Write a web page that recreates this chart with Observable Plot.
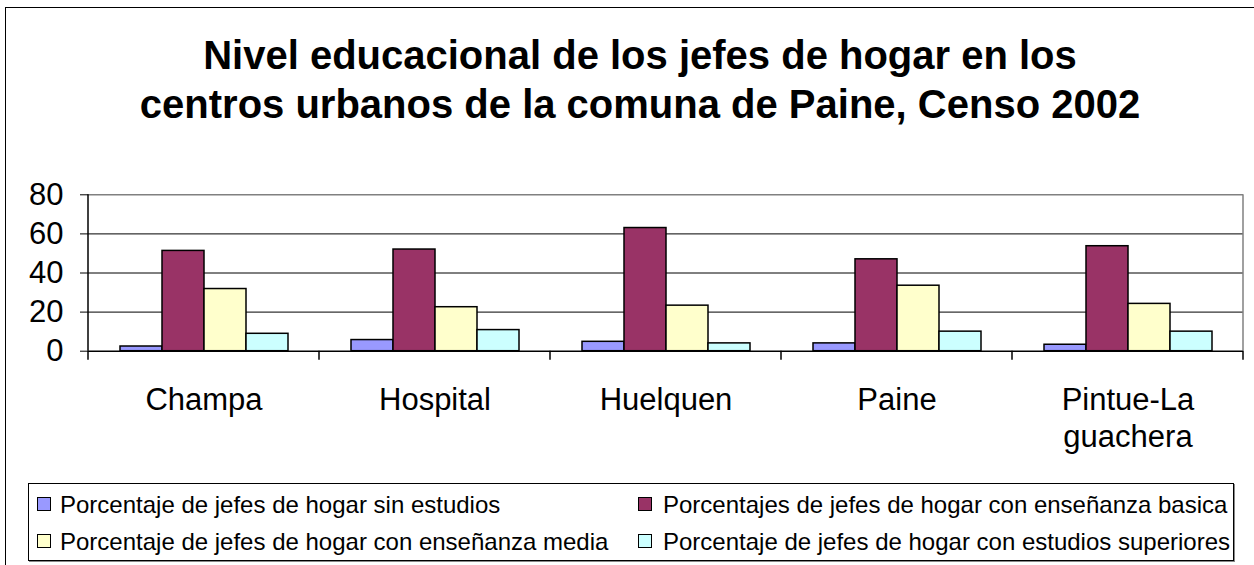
<!DOCTYPE html>
<html><head><meta charset="utf-8">
<script src="https://cdn.jsdelivr.net/npm/d3@7"></script>
<script src="https://cdn.jsdelivr.net/npm/@observablehq/plot@0.6"></script>
<style>
body{margin:0;background:#fff;overflow:hidden;font-family:"Liberation Sans",Arial,sans-serif;color:#000;}
#wrap{position:relative;width:1254px;height:565px;overflow:hidden;background:#fff;}
#outer{position:absolute;left:5px;top:7px;width:1300px;height:620px;border-left:1px solid #000;border-top:1px solid #000;}
#title{position:absolute;left:0;top:31px;width:1280px;text-align:center;font-weight:bold;font-size:40px;line-height:49px;white-space:nowrap;}
#chart{position:absolute;left:0;top:170px;}
#legend{position:absolute;left:28px;top:483px;width:1204px;height:76px;border:1px solid #000;box-shadow:1px 1px 0 #888;}
.li{position:absolute;font-size:24px;line-height:20px;white-space:nowrap;}
.sw{position:absolute;width:12px;height:12px;border:1px solid #000;}
</style>
</head><body>
<div id="wrap">
  <div id="outer"></div>
  <div id="title">Nivel educacional de los jefes de hogar en los<br>centros urbanos de la comuna de Paine, Censo 2002</div>
  <div id="chart"></div>
  <div id="legend"></div>
</div>
<script>
const cities = ["Champa", "Hospital", "Huelquen", "Paine", "Pintue-La guachera"];
const series = [
  "Porcentaje de jefes de hogar sin estudios",
  "Porcentajes de jefes de hogar con enseñanza basica",
  "Porcentaje de jefes de hogar con enseñanza media",
  "Porcentaje de jefes de hogar con estudios superiores"
];
const sinEstudios = [2.4, 5.7, 4.8, 4.0, 3.3];
const basica      = [51.3, 52.0, 63.0, 47.0, 53.7];
const media       = [31.8, 22.5, 23.3, 33.5, 24.2];
const superiores  = [8.9, 10.8, 4.0, 10.0, 10.0];
const yTicks = [0, 20, 40, 60, 80];
const colors = ["#9999FF", "#993366", "#FFFFCC", "#CCFFFF"];

const values = [sinEstudios, basica, media, superiores];
const data = cities.flatMap((c, i) => series.map((s, j) => ({city: c, serie: s, value: values[j][i]})));

const font = '"Liberation Sans", Arial, sans-serif';
const plot = Plot.plot({
  width: 1254, height: 300,
  marginLeft: 87, marginRight: 10, marginTop: 24.3, marginBottom: 119.3,
  style: {fontFamily: font, color: "#000", background: "transparent", overflow: "visible"},
  fx: {domain: cities, padding: 0},
  x: {domain: series, axis: null, paddingInner: 0, paddingOuter: 0.72},
  y: {domain: [0, 80], axis: null},
  color: {domain: series, range: colors},
  marks: [
    Plot.ruleY([20, 40, 60], {stroke: "#000", strokeWidth: 1}),
    Plot.ruleY([80], {stroke: "#808080", strokeWidth: 1.5}),
    Plot.barY(data, {fx: "city", x: "serie", y: "value", fill: "serie", stroke: "#000", strokeWidth: 1.5}),
    Plot.ruleY([0], {stroke: "#000", strokeWidth: 1.5}),
    Plot.axisY({ticks: yTicks, tickSize: 8, tickPadding: 17, fontSize: 31, label: null, stroke: "#000"}),
    Plot.axisFx({anchor: "bottom", tickSize: 0, tickPadding: 32, fontSize: 31, lineHeight: 1.2, label: null,
                 tickFormat: d => d.replace(" ", "\n")})
  ]
});

// axis lines and category separators derived from the scales
try {
  const fx = plot.scale("fx");
  const y = plot.scale("y");
  const y0 = y.apply(0), y80 = y.apply(80);
  const svg = d3.select(plot);
  const g = svg.append("g");
  const edges = cities.map(c => fx.apply(c));
  const right = fx.apply(cities[cities.length - 1]) + fx.bandwidth;
  edges.push(right);
  g.append("line").attr("x1", right).attr("x2", right).attr("y1", y80).attr("y2", y0)
    .attr("stroke", "#808080").attr("stroke-width", 1.5);
  g.append("line").attr("x1", edges[0]).attr("x2", edges[0]).attr("y1", y80).attr("y2", y0)
    .attr("stroke", "#000").attr("stroke-width", 1.5);
  edges.forEach(x => g.append("line").attr("x1", x).attr("x2", x).attr("y1", y0).attr("y2", y0 + 9)
    .attr("stroke", "#000").attr("stroke-width", 1.5));
} catch (e) { console.error(e); }

document.getElementById("chart").appendChild(plot);

// legend
const legend = d3.select("#legend");
const cols = [{sq: 8, tx: 31}, {sq: 609, tx: 634}];
const rows = [{sq: 13, tx: 11}, {sq: 50, tx: 48}];
series.forEach((s, i) => {
  const c = cols[i % 2], r = rows[Math.floor(i / 2)];
  legend.append("div").attr("class", "sw")
    .style("left", c.sq + "px").style("top", r.sq + "px").style("background", colors[i]);
  legend.append("div").attr("class", "li")
    .style("left", c.tx + "px").style("top", r.tx + "px").text(s);
});
</script>
</body></html>
